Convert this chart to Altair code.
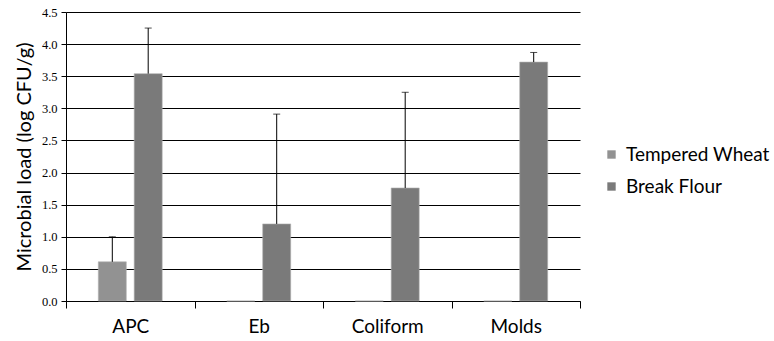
import altair as alt
import pandas as pd

categories = ["APC", "Eb", "Coliform", "Molds"]
series = ["Tempered Wheat", "Break Flour"]
tempered = [0.61, 0.0, 0.0, 0.0]
tempered_upper = [1.00, None, None, None]
break_flour = [3.54, 1.20, 1.76, 3.72]
break_upper = [4.25, 2.91, 3.25, 3.87]
y_ticks = [0.0, 0.5, 1.0, 1.5, 2.0, 2.5, 3.0, 3.5, 4.0, 4.5]

rows = []
for c, v, u in zip(categories, tempered, tempered_upper):
    rows.append({"category": c, "series": series[0], "value": v, "upper": u})
for c, v, u in zip(categories, break_flour, break_upper):
    rows.append({"category": c, "series": series[1], "value": v, "upper": u})
df = pd.DataFrame(rows)
err = df.dropna(subset=["upper"])

xscale = alt.Scale(domain=categories, paddingInner=0, paddingOuter=0)
yscale = alt.Scale(domain=[0, 4.5], nice=False, zero=True)
ytitle = "Microbial load (log CFU/g)"

xaxis = alt.Axis(labelAngle=0, labelFont="Lato", labelFontSize=19,
                 labelColor="#000000", labelPadding=9,
                 tickBand="extent", tickSize=7, tickColor="#000000",
                 domainColor="#000000", grid=False)
yaxis = alt.Axis(values=y_ticks, format=".1f", labelFont="Liberation Serif",
                 labelFontSize=12.5, labelColor="#000000", tickSize=5,
                 labelOverlap=False,
                 tickColor="#000000", domainColor="#000000",
                 grid=True, gridColor="#000000", gridWidth=1,
                 titleFont="Lato", titleFontSize=20, titleFontWeight="normal",
                 titleColor="#000000", titlePadding=7, labelPadding=4)

xo = alt.XOffset("series:N", sort=series,
                 scale=alt.Scale(domain=series, paddingInner=0.22, paddingOuter=0.9))


def X():
    return alt.X("category:N", sort=categories, title=None, scale=xscale, axis=xaxis)


def Y(field):
    return alt.Y(field, title=ytitle, scale=yscale, axis=yaxis)


bars = alt.Chart(df).mark_bar(stroke="#b0b0b0", strokeWidth=0.6).encode(
    x=X(), xOffset=xo, y=Y("value:Q"),
    color=alt.Color("series:N", sort=series,
                    scale=alt.Scale(domain=series, range=["#929292", "#7a7a7a"]),
                    legend=alt.Legend(title=None, orient="none", legendX=536, legendY=133,
                                      symbolType="square", symbolSize=70,
                                      symbolStrokeWidth=0, labelFont="Lato",
                                      labelFontSize=19, labelColor="#000000",
                                      rowPadding=12, labelOffset=5)),
)

rules = alt.Chart(err).mark_rule(color="#000000", strokeWidth=1).encode(
    x=X(), xOffset=xo, y=Y("value:Q"), y2="upper:Q",
)
caps = alt.Chart(err).mark_tick(color="#000000", thickness=1, size=7).encode(
    x=X(), xOffset=xo, y=Y("upper:Q"),
)

chart = alt.layer(bars, rules, caps).properties(
    width=514, height=289,
    autosize=alt.AutoSizeParams(type="none"),
    padding={"left": 66, "top": 12, "right": 194, "bottom": 40},
).configure(background="#ffffff").configure_view(stroke=None)

chart.save("out.html", embed_options={"renderer": "svg", "actions": False})
